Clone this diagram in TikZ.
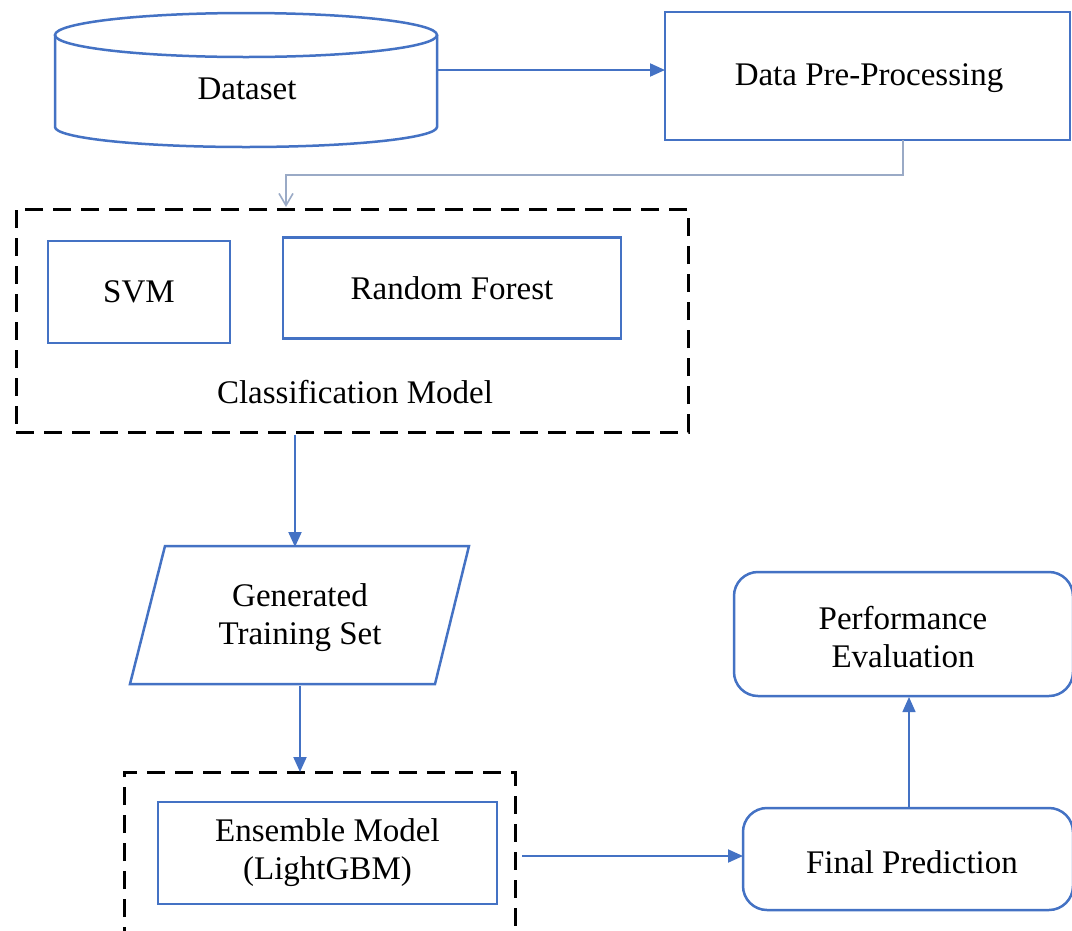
\documentclass[tikz,border=0pt]{standalone}
\usepackage{fontspec}
\setmainfont{Liberation Serif}
\usetikzlibrary{arrows.meta,calc}
\definecolor{blu}{HTML}{4472C4}
\definecolor{gry}{HTML}{9AAAC6}
\begin{document}
\begin{tikzpicture}[x=1pt,y=-1pt,
  font=\fontsize{33}{38}\selectfont,
  box/.style={draw=blu, line width=2.5pt, align=center, inner sep=0pt},
  rbox/.style={box, rounded corners=24pt},
  plain/.style={align=center, inner sep=0pt},
  dashbox/.style={draw=black, line width=3pt, dash pattern=on 18pt off 10pt},
  arr/.style={draw=blu, line width=2pt, -{Triangle[length=15pt,width=13pt]}},
  thinarr/.style={draw=blu, line width=1.5pt, -{Triangle[length=15pt,width=13pt]}},
  grayarr/.style={draw=gry, line width=1.6pt, -{Straight Barb[length=12pt,width=14pt]}}]
\useasboundingbox (0,0) rectangle (1072,930);
\fill[white] (0,0) rectangle (1072,930);

% Dataset cylinder
\node[plain, minimum width=382pt, minimum height=134pt] (ds) at (246,80) {};
\draw[blu, line width=2.5pt] (55,35) -- (55,127) arc[start angle=180, end angle=0, x radius=191, y radius=20] -- (437,35);
\draw[blu, line width=2.5pt] (246,35) ellipse [x radius=191, y radius=22];
\node[plain] at (247,89) {Dataset};

% Data Pre-Processing
\node[box, minimum width=405pt, minimum height=128pt] (dpp) at (867.5,76) {};
\node[plain] at (869,78) {Data Pre-Processing};

% Classification Model
\node[dashbox, minimum width=672pt, minimum height=223pt, inner sep=0pt] (cls) at (352,320.5) {};
\node[box, minimum width=182pt, minimum height=102pt] (svm) at (139,292) {SVM};
\node[box, minimum width=338pt, minimum height=101pt] (rf) at (452,288) {Random Forest};
\node[plain] (clslbl) at (355,392) {Classification Model};

% Generated Training Set
\node[plain, minimum width=306pt, minimum height=138pt] (gts) at (300,615) {};
\draw[blu, line width=2.5pt] (165,546) -- (469,546) -- (435,684) -- (130,684) -- cycle;
\node[plain] at (300,618) {Generated\\Training Set};

% Ensemble
\draw[dashbox] (124,945) -- (124,772) -- (515,772) -- (515,945);
\node[box, minimum width=339pt, minimum height=102pt] (ens) at (327.5,853) {};
\node[plain] at (327.5,853) {Ensemble Model\\(LightGBM)};
\coordinate (ensTop) at (300,772);
\coordinate (ensOut) at (522,856);

% Final Prediction & Performance Evaluation
\node[rbox, minimum width=330pt, minimum height=102pt] (fp) at (908,859) {};
\node[plain] at (912,862) {Final Prediction};
\node[rbox, minimum width=339pt, minimum height=124pt] (pe) at (903.5,634) {};
\node[plain] at (903,637) {Performance\\Evaluation};

% connectors
\coordinate (dsOut) at (437,70);
\coordinate (dppIn) at (665,70);
\draw[arr] (dsOut) -- (dppIn);

\coordinate (dppOut) at (903,140);
\coordinate (g1) at (903,175);
\coordinate (g2) at (286,175);
\coordinate (clsIn) at (286,207);
\draw[grayarr] (dppOut) -- (g1) -- (g2) -- (clsIn);

\coordinate (clsOut) at (295,435);
\coordinate (gtsIn) at (295,547);
\draw[arr] (clsOut) -- (gtsIn);

\coordinate (gtsOut) at (300,686);
\draw[arr] (gtsOut) -- (ensTop);

\coordinate (fpIn) at (743,856);
\draw[arr] (ensOut) -- (fpIn);

\coordinate (fpOut) at (909,808);
\coordinate (peIn) at (909,697);
\draw[thinarr] (fpOut) -- (peIn);
\end{tikzpicture}
\end{document}
